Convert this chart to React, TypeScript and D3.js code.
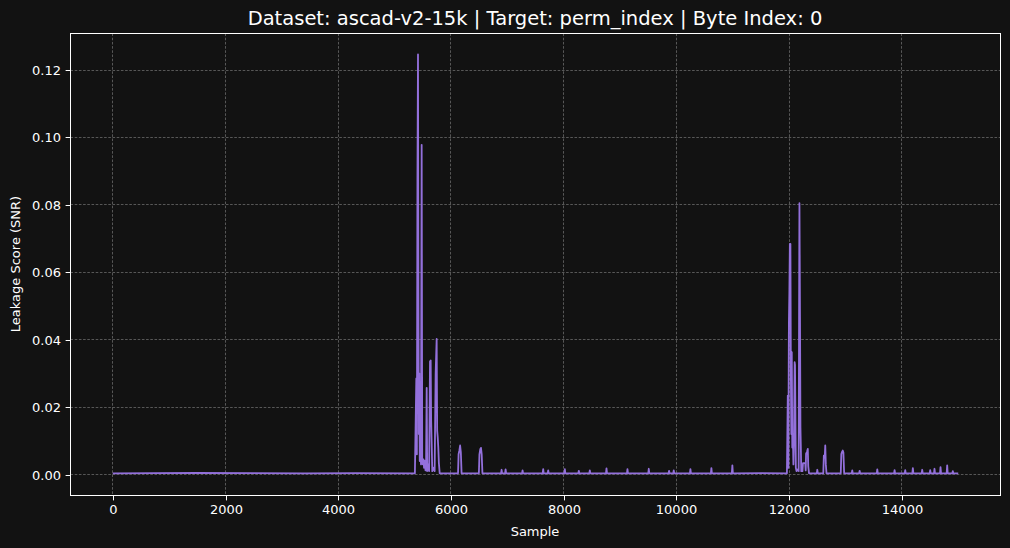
import React, { useEffect, useRef } from 'react';
import * as d3 from 'd3';

// Leakage trace as [sample, snr] key points.
// Baseline stretches are kept sparse; spikes carry their own rise/fall points.
const leadIn: [number, number][] = [
  [0, 0.00035], [700, 0.0004], [1500, 0.00045], [2500, 0.0004],
  [3400, 0.00035], [4300, 0.0004], [5360, 0.00035],
];

const burstA: [number, number][] = [
  [5385, 0.0285], [5395, 0.006], [5405, 0.087], [5415, 0.1246], [5422, 0.055],
  [5430, 0.012], [5438, 0.03], [5446, 0.004], [5458, 0.009], [5468, 0.003],
  [5480, 0.0978], [5490, 0.004], [5500, 0.003], [5512, 0.0045], [5522, 0.002],
  [5535, 0.004], [5548, 0.0012], [5558, 0.003], [5569, 0.0257], [5578, 0.001],
  [5595, 0.003], [5612, 0.001], [5628, 0.0335], [5640, 0.0338], [5648, 0.016],
  [5658, 0.009], [5668, 0.001], [5690, 0.002], [5710, 0.001], [5728, 0.03],
  [5746, 0.0402], [5755, 0.013], [5765, 0.011], [5775, 0.008], [5785, 0.0035],
  [5800, 0.00035],
  [6125, 0.00035], [6135, 0.006], [6150, 0.0072], [6162, 0.0086], [6175, 0.0066], [6188, 0.00035],
  [6495, 0.00035], [6505, 0.006], [6520, 0.0075], [6532, 0.0079], [6545, 0.006], [6558, 0.00035],
];

const midRun: [number, number][] = [
  [6889, 0.00035], [6898, 0.0014], [6907, 0.00035],
  [6960, 0.00035], [6969, 0.0015], [6978, 0.00035],
  [7261, 0.00035], [7270, 0.0012], [7279, 0.00035],
  [7627, 0.00035], [7636, 0.0016], [7645, 0.00035],
  [7716, 0.00035], [7725, 0.0012], [7734, 0.00035],
  [8011, 0.00035], [8020, 0.0016], [8029, 0.00035],
  [8259, 0.00035], [8268, 0.0011], [8277, 0.00035],
  [8454, 0.00035], [8463, 0.0012], [8472, 0.00035],
  [8750, 0.00035], [8759, 0.0018], [8768, 0.00035],
  [9122, 0.00035], [9131, 0.0016], [9140, 0.00035],
  [9500, 0.00035], [9509, 0.0017], [9518, 0.00035],
  [9860, 0.00035], [9869, 0.0011], [9878, 0.00035],
  [9943, 0.00035], [9952, 0.0012], [9961, 0.00035],
  [10239, 0.00035], [10248, 0.0016], [10257, 0.00035],
  [10611, 0.00035], [10620, 0.0019], [10629, 0.00035],
  [10983, 0.00035], [10992, 0.0027], [11001, 0.00035],
  [11500, 0.0004], [11960, 0.00035],
];

const burstB: [number, number][] = [
  [11975, 0.0234], [11985, 0.002], [11995, 0.045], [12003, 0.0536], [12012, 0.0684],
  [12022, 0.0684], [12030, 0.03], [12038, 0.012], [12046, 0.0363], [12055, 0.008],
  [12065, 0.012], [12075, 0.003], [12085, 0.01], [12097, 0.0333], [12103, 0.0325],
  [12110, 0.0196], [12118, 0.002], [12130, 0.001], [12150, 0.0015], [12168, 0.001],
  [12176, 0.05], [12182, 0.0805], [12192, 0.047], [12200, 0.014], [12206, 0.009],
  [12214, 0.001], [12235, 0.001], [12245, 0.0034], [12285, 0.0034], [12293, 0.0012],
  [12300, 0.0062], [12318, 0.0068], [12330, 0.0076], [12338, 0.0025], [12352, 0.00035],
  [12490, 0.00035], [12499, 0.0014], [12508, 0.00035],
  [12605, 0.00035], [12615, 0.0056], [12630, 0.005], [12640, 0.0086], [12650, 0.003], [12662, 0.00035],
  [12915, 0.00035], [12925, 0.0061], [12940, 0.0068], [12950, 0.0071], [12962, 0.0065], [12975, 0.00035],
];

const tail: [number, number][] = [
  [13110, 0.00035], [13119, 0.0012], [13128, 0.00035],
  [13241, 0.00035], [13250, 0.0011], [13259, 0.00035],
  [13554, 0.00035], [13563, 0.0015], [13572, 0.00035],
  [13861, 0.00035], [13870, 0.0013], [13879, 0.00035],
  [14050, 0.00035], [14059, 0.0013], [14068, 0.00035],
  [14185, 0.00035], [14194, 0.0019], [14203, 0.00035],
  [14351, 0.00035], [14360, 0.0014], [14369, 0.00035],
  [14493, 0.00035], [14502, 0.0013], [14511, 0.00035],
  [14569, 0.00035], [14578, 0.0017], [14587, 0.00035],
  [14676, 0.00035], [14685, 0.0022], [14694, 0.00035],
  [14794, 0.00035], [14803, 0.0027], [14812, 0.00035],
  [14894, 0.00035], [14903, 0.001], [14912, 0.00035],
  [14999, 0.00035],
];

const xTicks = [0, 2000, 4000, 6000, 8000, 10000, 12000, 14000];
const yTicks = [0, 0.02, 0.04, 0.06, 0.08, 0.1, 0.12];

const TITLE = 'Dataset: ascad-v2-15k | Target: perm_index | Byte Index: 0';
const WIDTH = 1010;
const HEIGHT = 548;
const margin = { left: 70, right: 10, top: 33, bottom: 53 };
const BG = '#121212';
const LINE = '#9370db';
const FONT = '"DejaVu Sans", sans-serif';

const App: React.FC = () => {
  const svgRef = useRef<SVGSVGElement | null>(null);

  useEffect(() => {
    if (!svgRef.current) {
      return;
    }
    const svg = d3.select(svgRef.current);
    svg.selectAll('*').remove();

    const trace = [...leadIn, ...burstA, ...midRun, ...burstB, ...tail];
    const innerW = WIDTH - margin.left - margin.right;
    const innerH = HEIGHT - margin.top - margin.bottom;

    // matplotlib-style 5% autoscale margins
    const [xMin, xMax] = d3.extent(trace, d => d[0]) as [number, number];
    const yMax = d3.max(trace, d => d[1]) ?? 0;
    const yMin = 0;
    const xPad = (xMax - xMin) * 0.05;
    const yPad = (yMax - yMin) * 0.05;

    const x = d3.scaleLinear().domain([xMin - xPad, xMax + xPad]).range([0, innerW]);
    const y = d3.scaleLinear().domain([yMin - yPad, yMax + yPad]).range([innerH, 0]);

    svg.append('rect').attr('width', WIDTH).attr('height', HEIGHT).attr('fill', BG);

    // half-pixel offset keeps the 1px spines and grid crisp
    const g = svg.append('g').attr('transform', `translate(${margin.left + 0.5},${margin.top + 0.5})`);

    const grid = g.append('g')
      .attr('stroke', '#6a6a6a')
      .attr('stroke-width', 0.8)
      .attr('stroke-dasharray', '2.6,1.6');
    xTicks.forEach(t => {
      const px = Math.round(x(t));
      grid.append('line').attr('x1', px).attr('x2', px).attr('y1', 0).attr('y2', innerH);
    });
    yTicks.forEach(t => {
      const py = Math.round(y(t));
      grid.append('line').attr('y1', py).attr('y2', py).attr('x1', 0).attr('x2', innerW);
    });

    const line = d3.line<[number, number]>()
      .x(d => x(d[0]))
      .y(d => y(d[1]));

    g.append('path')
      .datum(trace)
      .attr('d', line)
      .attr('fill', 'none')
      .attr('stroke', LINE)
      .attr('stroke-width', 1.8)
      .attr('stroke-linejoin', 'round');

    // spines
    g.append('rect')
      .attr('width', innerW)
      .attr('height', innerH)
      .attr('fill', 'none')
      .attr('stroke', '#ffffff')
      .attr('stroke-width', 1);

    const xAxis = d3.axisBottom(x).tickValues(xTicks).tickSize(4.9).tickPadding(4.6).tickFormat(d3.format('d'));
    const yAxis = d3.axisLeft(y).tickValues(yTicks).tickSize(4.9).tickPadding(4.6).tickFormat(d3.format('.2f'));

    const styleAxis = (sel: d3.Selection<SVGGElement, unknown, null, undefined>) => {
      sel.select('.domain').remove();
      sel.selectAll('.tick').attr('transform', function () {
        const tr = (this as SVGGElement).getAttribute('transform') ?? '';
        return tr.replace(/-?\d+(\.\d+)?/g, v => String(Math.round(parseFloat(v))));
      });
      sel.selectAll('line').attr('stroke', '#ffffff').attr('stroke-width', 1);
      sel.selectAll('text')
        .attr('fill', '#ffffff')
        .attr('font-family', FONT)
        .attr('font-size', '13px');
    };

    g.append('g').attr('transform', `translate(0,${innerH})`).call(xAxis).call(styleAxis);
    g.append('g').call(yAxis).call(styleAxis);

    svg.append('text')
      .attr('x', margin.left + innerW / 2)
      .attr('y', 25)
      .attr('text-anchor', 'middle')
      .attr('fill', '#ffffff')
      .attr('font-family', FONT)
      .attr('font-size', '19.5px')
      .text(TITLE);

    svg.append('text')
      .attr('x', margin.left + innerW / 2)
      .attr('y', 536)
      .attr('text-anchor', 'middle')
      .attr('fill', '#ffffff')
      .attr('font-family', FONT)
      .attr('font-size', '13px')
      .text('Sample');

    svg.append('text')
      .attr('transform', `translate(20,${margin.top + innerH / 2}) rotate(-90)`)
      .attr('text-anchor', 'middle')
      .attr('fill', '#ffffff')
      .attr('font-family', FONT)
      .attr('font-size', '13px')
      .text('Leakage Score (SNR)');
  }, []);

  return (
    <svg
      ref={svgRef}
      width={WIDTH}
      height={HEIGHT}
      style={{ position: 'absolute', left: 0, top: 0, display: 'block' }}
      role="img"
      aria-label="SNR leakage trace"
    />
  );
};

export default App;
